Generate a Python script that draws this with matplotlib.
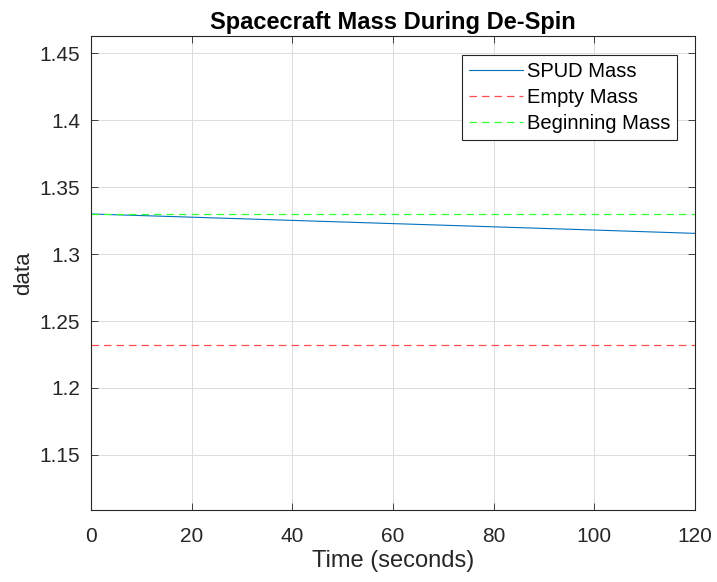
import matplotlib
matplotlib.use("Agg")
import matplotlib.pyplot as plt

# values
t = [0, 20, 40, 60, 80, 100, 120]
spud_mass = [1.3300, 1.3276, 1.3252, 1.3228, 1.3204, 1.3180, 1.3155]
empty_mass = 1.232
begin_mass = 1.33
xticks = [0, 20, 40, 60, 80, 100, 120]
yticks = [1.15, 1.2, 1.25, 1.3, 1.35, 1.4, 1.45]

plt.rcParams['font.family'] = ['Liberation Sans', 'DejaVu Sans']

fig = plt.figure(figsize=(7.17, 5.82), dpi=100)
ax = fig.add_axes([0.127, 0.1237, 0.842, 0.8145])

ax.plot(t, spud_mass, color=(0, 0.447, 0.741), lw=0.8, label='SPUD Mass')
ax.plot([t[0], t[-1]], [empty_mass, empty_mass], ls=(0, (6, 4)), color=(1, 0.3, 0.3),
        lw=0.9, label='Empty Mass')
ax.plot([t[0], t[-1]], [begin_mass, begin_mass], ls=(0, (6, 4)), color=(0.2, 1, 0.2),
        lw=0.9, label='Beginning Mass')

ax.set_xlim(0, 120)
ax.set_ylim(0.9 * empty_mass, 1.1 * begin_mass)
ax.set_xticks(xticks)
ax.set_yticks(yticks)
ax.set_yticklabels([('%g' % v) for v in yticks])
ax.tick_params(direction='in', top=True, right=True, labelsize=15, colors='#262626',
               length=5, width=0.6)
ax.tick_params(axis='x', pad=12)
ax.tick_params(axis='y', pad=8)
for s in ax.spines.values():
    s.set_color('#262626')
    s.set_linewidth(0.8)
ax.grid(True, color='#dcdcdc', lw=0.7)
ax.set_axisbelow(True)

ax.set_title('Spacecraft Mass During De-Spin', fontsize=17, fontweight='bold', pad=5)
ax.set_xlabel('Time (seconds)', fontsize=17, color='#262626', labelpad=3)
ax.set_ylabel('data', fontsize=16, color='#262626')

leg = ax.legend(loc='upper right', bbox_to_anchor=(0.988, 0.982), fontsize=14.5,
                fancybox=False, framealpha=1, edgecolor='#262626',
                handlelength=2.7, handletextpad=0.2, borderpad=0.35, labelspacing=0.35)
leg.get_frame().set_linewidth(0.8)

fig.savefig('out.png', dpi=100)
